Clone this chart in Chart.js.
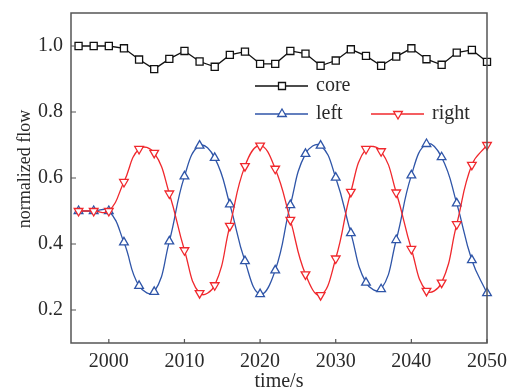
<!DOCTYPE html>
<html>
<head>
<meta charset="utf-8">
<script src="https://cdn.jsdelivr.net/npm/chart.js@4.4.1/dist/chart.umd.min.js"></script>
<style>
html,body{margin:0;padding:0;background:#fff;}
#wrap{width:517px;height:392px;}
</style>
</head>
<body>
<div id="wrap"><canvas id="c" width="517" height="392"></canvas></div>
<script>
/* normalized flow vs time */
var times = [1996,1998,2000,2002,2004,2006,2008,2010,2012,2014,2016,2018,2020,2022,
             2024,2026,2028,2030,2032,2034,2036,2038,2040,2042,2044,2046,2048,2050];
var core  = [1.000,1.000,1.000,0.993,0.959,0.930,0.961,0.985,0.953,0.937,0.973,0.983,0.946,0.946,
             0.985,0.977,0.940,0.956,0.990,0.970,0.940,0.968,0.993,0.960,0.943,0.980,0.988,0.952];
var left  = [0.500,0.500,0.500,0.405,0.273,0.255,0.408,0.605,0.698,0.661,0.520,0.348,0.248,0.320,
             0.518,0.673,0.698,0.601,0.433,0.283,0.263,0.412,0.608,0.703,0.663,0.523,0.351,0.251];
var right = [0.500,0.500,0.500,0.588,0.688,0.676,0.553,0.381,0.251,0.275,0.455,0.636,0.698,0.628,
             0.473,0.308,0.245,0.356,0.558,0.688,0.681,0.556,0.385,0.258,0.283,0.460,0.640,0.700];
var xTicks = [2000,2010,2020,2030,2040,2050];
var yTicks = [0.2,0.4,0.6,0.8,1.0];

var FONT = '"Liberation Serif", "Times New Roman", serif';
var TXT = '#2a2a2a';
var AX = '#555';
var BLACK = '#111', BLUE = '#2f55a8', RED = '#f0282d';

function pts(ys){ return times.map(function(t,i){ return {x:t, y:ys[i]}; }); }

function marker(ctx, kind, x, y, color){
  ctx.save();
  ctx.fillStyle = '#fff'; ctx.strokeStyle = color; ctx.lineWidth = 1.3;
  ctx.beginPath();
  if (kind === 'rect') { ctx.rect(x-3.5, y-3.5, 7, 7); }
  else {
    var r = 5, s = kind === 'down' ? -1 : 1;
    ctx.moveTo(x, y - s*r);
    ctx.lineTo(x + r*0.866, y + s*r*0.5);
    ctx.lineTo(x - r*0.866, y + s*r*0.5);
    ctx.closePath();
  }
  ctx.fill(); ctx.stroke();
  ctx.restore();
}

/* frame, inward ticks, y title, legend */
var decor = {
  id: 'decor',
  afterDraw: function(chart){
    var ctx = chart.ctx, a = chart.chartArea, xs = chart.scales.x, ys = chart.scales.y;
    ctx.save();
    ctx.strokeStyle = AX; ctx.lineWidth = 1.5;
    ctx.strokeRect(a.left, a.top, a.right - a.left, a.bottom - a.top);
    ctx.lineWidth = 1.2;
    ctx.beginPath();
    xTicks.forEach(function(v){ var px = xs.getPixelForValue(v); ctx.moveTo(px, a.bottom); ctx.lineTo(px, a.bottom - 4); });
    yTicks.forEach(function(v){ var py = ys.getPixelForValue(v); ctx.moveTo(a.left, py); ctx.lineTo(a.left + 5, py); });
    ctx.stroke();

    ctx.fillStyle = TXT;
    ctx.font = '18px ' + FONT;
    ctx.textAlign = 'center'; ctx.textBaseline = 'middle';
    ctx.translate(25, 169); ctx.rotate(-Math.PI/2);
    ctx.fillText('normalized flow', 0, 0);
    ctx.restore();

    var items = [
      {label:'core',  color:BLACK, kind:'rect', x:255, y:86},
      {label:'left',  color:BLUE,  kind:'up',   x:255, y:114},
      {label:'right', color:RED,   kind:'down', x:371, y:114}
    ];
    ctx.save();
    ctx.font = '20px ' + FONT; ctx.textBaseline = 'middle'; ctx.textAlign = 'left';
    items.forEach(function(it){
      ctx.strokeStyle = it.color; ctx.lineWidth = 1.3;
      ctx.beginPath(); ctx.moveTo(it.x, it.y); ctx.lineTo(it.x + 53, it.y); ctx.stroke();
      marker(ctx, it.kind, it.x + 27, it.y, it.color);
      ctx.fillStyle = TXT;
      ctx.fillText(it.label, it.x + 61, it.y);
    });
    ctx.restore();
  }
};

new Chart(document.getElementById('c'), {
  type: 'line',
  data: {
    datasets: [
      { label:'core', data: pts(core), borderColor: BLACK, borderWidth: 1.3, tension: 0,
        pointStyle: 'rect', pointRadius: 5, pointBorderWidth: 1.3, pointBackgroundColor: '#fff',
        pointBorderColor: BLACK, clip: false, order: 2 },
      { label:'left', data: pts(left), borderColor: BLUE, borderWidth: 1.3, tension: 0.45,
        pointStyle: 'triangle', pointRadius: 5, pointBorderWidth: 1.3, pointBackgroundColor: '#fff',
        pointBorderColor: BLUE, clip: false, order: 1 },
      { label:'right', data: pts(right), borderColor: RED, borderWidth: 1.3, tension: 0.45,
        pointStyle: 'triangle', pointRotation: 180, pointRadius: 5, pointBorderWidth: 1.3,
        pointBackgroundColor: '#fff', pointBorderColor: RED, clip: false, order: 0 }
    ]
  },
  options: {
    responsive: false, animation: false, devicePixelRatio: 1,
    layout: { padding: { top: 12, right: 30, left: 0, bottom: 0 } },
    plugins: { legend: { display: false }, tooltip: { enabled: false } },
    scales: {
      x: {
        type: 'linear', min: 1995, max: 2050,
        afterBuildTicks: function(s){ s.ticks = xTicks.map(function(v){ return {value:v}; }); },
        afterFit: function(s){ s.height = 49; },
        grid: { display: false, drawTicks: false }, border: { display: false },
        ticks: { color: TXT, font: { family: FONT, size: 20 }, padding: 7, maxRotation: 0,
                 callback: function(v){ return String(v); } },
        title: { display: true, text: 'time/s', color: TXT, font: { family: FONT, size: 20, lineHeight: 1.0 },
                 padding: { top: 0, bottom: 0 } }
      },
      y: {
        min: 0.1, max: 1.1,
        afterBuildTicks: function(s){ s.ticks = yTicks.map(function(v){ return {value:v}; }); },
        afterFit: function(s){ s.width = 71; },
        grid: { display: false, drawTicks: false }, border: { display: false },
        ticks: { color: TXT, font: { family: FONT, size: 20, lineHeight: 0.5 }, padding: 8,
                 callback: function(v){ return v.toFixed(1); } }
      }
    }
  },
  plugins: [decor]
});
</script>
</body>
</html>
